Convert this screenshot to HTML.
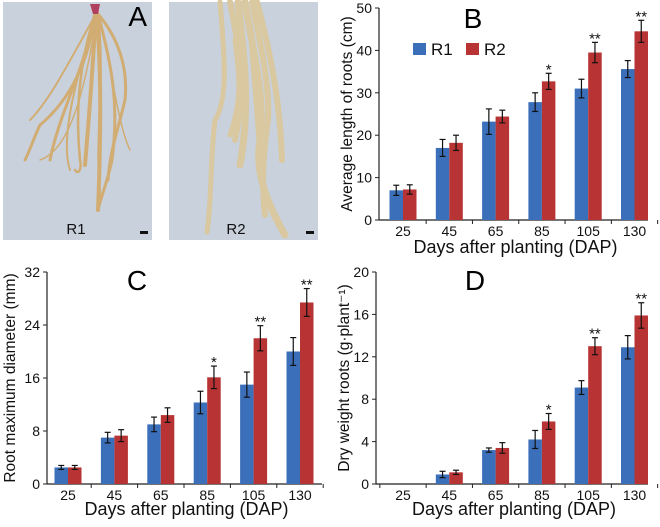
<!DOCTYPE html>
<html><head><meta charset="utf-8"><style>
body{margin:0;background:#fff;width:660px;height:522px;overflow:hidden}
svg{font-family:"Liberation Sans",Arial,sans-serif}
</style></head><body>
<svg id="fig" width="660" height="522" viewBox="0 0 660 522">
<g>
<rect x="3" y="2" width="149" height="238" fill="#c8d1dc"/>
<g stroke="#d2ad73" fill="none" stroke-linecap="round">
<path d="M95 12 C90 60 70 100 40 125 C35 135 30 150 25 160" stroke-width="3"/>
<path d="M95 12 C85 70 60 110 50 160" stroke-width="3"/>
<path d="M96 12 C92 80 88 130 85 165" stroke-width="4"/>
<path d="M97 12 C100 60 102 110 98 210" stroke-width="4"/>
<path d="M98 14 C110 60 120 100 112 160 C108 180 100 200 98 210" stroke-width="3"/>
<path d="M98 14 C120 40 128 70 125 100 C118 130 110 150 108 180" stroke-width="3"/>
<path d="M95 14 C80 60 75 110 80 160 C82 170 78 175 75 170" stroke-width="2.5"/>
<path d="M96 14 C70 60 50 100 30 120" stroke-width="2"/>
<path d="M96 16 C75 80 60 140 70 170" stroke-width="2"/>
<path d="M98 16 C105 80 95 140 100 195" stroke-width="2.5"/>
<path d="M96 20 C85 90 70 150 40 160" stroke-width="1.5"/>
<path d="M100 20 C115 90 120 130 130 150" stroke-width="1.5"/>
</g>
<path d="M90 4 L100 4 L98 14 L93 14 Z" fill="#b04060"/>
<text x="147" y="26" font-size="28" text-anchor="end" fill="#000">A</text>
<text x="76" y="234" font-size="15" text-anchor="middle" fill="#111">R1</text>
<rect x="140" y="231" width="8" height="3" fill="#111"/>
</g>
<g>
<rect x="169" y="2" width="149" height="238" fill="#c8d1dc"/>
<g stroke="#d9c8a0" fill="none" stroke-linecap="round">
<path d="M220 2 C225 60 228 100 215 120 C210 160 212 200 207 232" stroke-width="5"/>
<path d="M230 2 C240 50 245 90 235 140" stroke-width="6"/>
<path d="M238 2 C245 60 250 110 240 165" stroke-width="7"/>
<path d="M245 2 C255 60 265 100 260 140 C255 170 265 200 285 235" stroke-width="7"/>
<path d="M252 2 C262 50 270 90 268 120 C262 160 262 190 265 215" stroke-width="6"/>
<path d="M257 2 C270 50 280 100 282 160" stroke-width="6"/>
<path d="M235 40 C240 80 242 100 230 135" stroke-width="5"/>
<path d="M250 30 C255 80 258 130 262 180" stroke-width="5"/>
</g>
<text x="236" y="234" font-size="15" text-anchor="middle" fill="#111">R2</text>
<rect x="306" y="231" width="8" height="3" fill="#111"/>
</g>
<g id="pB"></g><g id="pC"></g><g id="pD"></g>
</svg>
<script>
const cats=["25","45","65","85","105","130"];
const bR1=[7,17,23.2,27.8,31,35.6], bR1e=[1.2,2,3,2.2,2.2,2];
const bR2=[7.2,18.2,24.4,32.7,39.5,44.5], bR2e=[1.1,1.8,1.5,1.9,2.4,2.6];
const bSig=["","","","*","**","**"];
const bTicks=[0,10,20,30,40,50];
const cR1=[2.5,7,9,12.3,15,20], cR1e=[0.3,0.8,1.1,1.7,1.9,2.1];
const cR2=[2.5,7.3,10.4,16.1,22,27.4], cR2e=[0.3,0.9,1.1,1.7,1.9,2.1];
const cSig=["","","","*","**","**"];
const cTicks=[0,8,16,24,32];
const dR1=[0,0.9,3.2,4.2,9.1,12.9], dR1e=[0,0.3,0.2,0.85,0.65,1.1];
const dR2=[0,1.1,3.4,5.9,13,15.9], dR2e=[0,0.2,0.5,0.75,0.8,1.2];
const dSig=["","","","*","**","**"];
const dTicks=[0,4,8,12,16,20];
const NS="http://www.w3.org/2000/svg";
function mk(p,t,a,txt){const e=document.createElementNS(NS,t);for(const k in a)e.setAttribute(k,a[k]);if(txt!==undefined)e.textContent=txt;p.appendChild(e);return e;}
function panel(id,cfg){
 const g=document.getElementById(id);
 
 
 const {x0,x1,y0,y1,max,first,step}=cfg;
 const Y=v=>y0-(v/max)*(y0-y1);
 const X=i=>first+i*step;
 const bw=13.5;
 let ax=mk(g,'line',{x1:x0,y1:y1,x2:x0,y2:y0,stroke:'#222','stroke-width':1.2});
 
 let xa=mk(g,'line',{x1:x0,y1:y0,x2:x1,y2:y0,stroke:'#222','stroke-width':1.2});
 
 cfg.ticks.forEach(t=>{
  mk(g,'line',{x1:x0-4,y1:Y(t),x2:x0,y2:Y(t),stroke:'#222'});
  const l=mk(g,'text',{x:x0-7,y:Y(t)+5,'font-size':14,'text-anchor':'end',fill:'#111'},t);
  
 });
 for(let i=0;i<=cats.length;i++){const xx=X(i)-step/2;if(xx>x0+2)mk(g,'line',{x1:xx,y1:y0,x2:xx,y2:y0+4,stroke:'#222'});}
 cats.forEach((c,i)=>{
  const l=mk(g,'text',{x:X(i),y:y0+16,'font-size':14,'text-anchor':'middle',fill:'#111'},c);
  
  [[cfg.r1,cfg.r1e,'#3b6fba',-bw],[cfg.r2,cfg.r2e,'#b83333',0]].forEach(([v,e,col,off],s)=>{
   const b=mk(g,'rect',{x:X(i)+off,y:Y(v[i]),width:bw,height:y0-Y(v[i]),fill:col});
   
   const cx=X(i)+off+bw/2;
   if(e[i]>0){
    mk(g,'line',{x1:cx,y1:Y(v[i]+e[i]),x2:cx,y2:Y(v[i]-e[i]),stroke:'#111','stroke-width':1.2});
    mk(g,'line',{x1:cx-3,y1:Y(v[i]+e[i]),x2:cx+3,y2:Y(v[i]+e[i]),stroke:'#111','stroke-width':1.2});
    mk(g,'line',{x1:cx-3,y1:Y(v[i]-e[i]),x2:cx+3,y2:Y(v[i]-e[i]),stroke:'#111','stroke-width':1.2});
   }
   if(s===1&&cfg.sig[i]){
    const st=mk(g,'text',{x:cx,y:Y(v[i]+e[i])+1,'font-size':15,'text-anchor':'middle',fill:'#111'},cfg.sig[i]);
    
   }
  });
 });
 const xt=mk(g,'text',{x:(x0+x1)/2+2,y:y0+cfg.xtoff,'font-size':18,'text-anchor':'middle',fill:'#111'},'Days after planting (DAP)');
 
 const yc=(y0+y1)/2;
 const yt=mk(g,'text',{x:cfg.ytx,y:yc,'font-size':15.5,'text-anchor':'middle',fill:'#111',transform:`rotate(-90 ${cfg.ytx} ${yc})`},cfg.ytitle);
 
 const pl=mk(g,'text',{x:cfg.lx,y:cfg.ly,'font-size':28,'text-anchor':'middle',fill:'#000'},cfg.letter);
 
}
panel('pB',{name:'chart-b-root-length',x0:379,x1:648,y0:220,y1:8,max:50,first:403,step:46.3,ticks:bTicks,r1:bR1,r1e:bR1e,r2:bR2,r2e:bR2e,sig:bSig,ytx:352,ytitle:'Average length of roots (cm)',letter:'B',lx:473,ly:28,xtoff:33});
panel('pC',{name:'chart-c-root-diameter',x0:47,x1:322,y0:484,y1:272,max:32,first:68,step:46.4,ticks:cTicks,r1:cR1,r1e:cR1e,r2:cR2,r2e:cR2e,sig:cSig,ytx:15,ytitle:'Root maximum diameter (mm)',letter:'C',lx:137,ly:290,xtoff:31});
panel('pD',{name:'chart-d-dry-weight',x0:376,x1:648,y0:484,y1:272,max:20,first:403,step:46.3,ticks:dTicks,r1:dR1,r1e:dR1e,r2:dR2,r2e:dR2e,sig:dSig,ytx:349,ytitle:'Dry weight roots (g·plant⁻¹)',letter:'D',lx:475,ly:290,xtoff:31});
const lg=document.getElementById('pB');
const leg=mk(lg,'g',{});


mk(leg,'rect',{x:413,y:43,width:13,height:12,fill:'#3b6fba'});
mk(leg,'text',{x:431,y:55,'font-size':17,fill:'#111'},'R1');
mk(leg,'rect',{x:466,y:43,width:13,height:12,fill:'#b83333'});
mk(leg,'text',{x:484,y:55,'font-size':17,fill:'#111'},'R2');
</script>
</body></html>
